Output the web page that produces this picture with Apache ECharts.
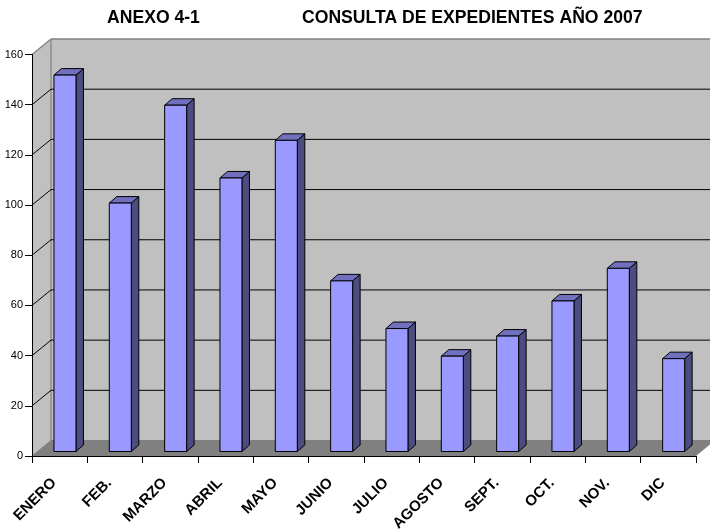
<!DOCTYPE html>
<html><head><meta charset="utf-8">
<style>html,body{margin:0;padding:0;background:#fff}#c{width:710px;height:532px}</style>
<script src="https://cdn.jsdelivr.net/npm/echarts@6/dist/echarts.min.js"></script>
</head><body><div id="c"></div>
<script>
const categories = ['ENERO','FEB.','MARZO','ABRIL','MAYO','JUNIO','JULIO','AGOSTO','SEPT.','OCT.','NOV.','DIC'];
const values = [150,99,138,109,124,68,49,38,46,60,73,37];
const yTicks = [20,40,60,80,100,120,140,160];
const yMin = 0, yMax = 160, yStep = 20;

// perspective offsets of the pseudo-3D drawing, in pixels
const wallDX = 19, wallDY = -15.5;
const barDX = 7.5, barDY = -6.5, barW = 22, barShift = 5.3, barLift = 4.5;
const FONT = '"Liberation Sans", Arial, sans-serif';

const chart = echarts.init(document.getElementById('c'), null, {renderer:'canvas'});
const poly = (pts, fill, stroke, lw, z2) => ({
  type:'polygon', shape:{points:pts}, z2:z2||0,
  style:{fill, stroke:stroke||'none', lineWidth:lw||0}
});
const seg = (x1,y1,x2,y2,stroke,lw,z2) => ({
  type:'line', shape:{x1,y1,x2,y2}, z2:z2||0, style:{stroke,lineWidth:lw||1}
});

function renderWalls(params, api){
  const cs = params.coordSys;
  const L = cs.x, R = cs.x+cs.width, B = cs.y+cs.height, T = cs.y;
  return {type:'group', children:[
    poly([[L,B],[L,T],[L+wallDX,T+wallDY],[L+wallDX,B+wallDY]],'#c0c0c0'),
    poly([[L+wallDX,B+wallDY],[L+wallDX,T+wallDY],[R+wallDX,T+wallDY],[R+wallDX,B+wallDY]],'#c0c0c0'),
    poly([[L,B],[L+wallDX,B+wallDY],[R+wallDX,B+wallDY],[R,B]],'#808080'),
    seg(L,T,L+wallDX,T+wallDY,'#808080',1.2),
    seg(L+wallDX,T+wallDY,R+wallDX,T+wallDY,'#808080',1.4),
    seg(L+wallDX,T+wallDY,L+wallDX,B+wallDY,'#808080',1.2),
    seg(L,B,L+wallDX,B+wallDY,'#808080',1),
    seg(L+wallDX,B+wallDY,R+wallDX,B+wallDY,'#808080',1)
  ]};
}
function renderGrid(params, api){
  const cs = params.coordSys;
  const L = cs.x, R = cs.x+cs.width;
  const y = api.coord([0, api.value(1)])[1];
  if (api.value(1) === yMax) return {type:'group', children:[]};
  return {type:'group', children:[
    seg(L,y,L+wallDX,y+wallDY,'#000',1),
    seg(L+wallDX,y+wallDY,R+wallDX,y+wallDY,'#000',1)
  ]};
}
function renderBar(params, api){
  const p = api.coord([api.value(0), api.value(1)]);
  const b = api.coord([api.value(0), 0]);
  const x0 = p[0]-barW/2+barShift, x1 = x0+barW;
  const yt = p[1]-barLift, yb = b[1]-barLift;
  const s = '#000', lw = 1;
  return {type:'group', children:[
    poly([[x1,yb],[x1,yt],[x1+barDX,yt+barDY],[x1+barDX,yb+barDY]],'#4c4c80',s,lw),
    poly([[x0,yt],[x0+barDX,yt+barDY],[x1+barDX,yt+barDY],[x1,yt]],'#7070bf',s,lw),
    poly([[x0,yb],[x0,yt],[x1,yt],[x1,yb]],'#9999ff',s,lw)
  ]};
}

chart.setOption({
  animation:false,
  backgroundColor:'#fff',
  title:[
    {text:'ANEXO 4-1', left:107, top:9.5, padding:0, textStyle:{fontFamily:FONT,fontSize:17.6,fontWeight:'bold',color:'#000'}},
    {text:'CONSULTA DE EXPEDIENTES AÑO 2007', left:302, top:9.5, padding:0, textStyle:{fontFamily:FONT,fontSize:17.6,fontWeight:'bold',color:'#000'}}
  ],
  grid:{left:32,right:14,top:54.5,bottom:76,containLabel:false,outerBoundsMode:'none'},
  xAxis:{
    type:'category', data:categories, z:10,
    axisLine:{show:true,lineStyle:{color:'#000',width:1}},
    axisTick:{show:true,alignWithLabel:false,length:7,lineStyle:{color:'#000',width:1}},
    axisLabel:{rotate:45,interval:0,margin:19,padding:[0,8,0,0],color:'#000',fontFamily:FONT,fontSize:15,fontWeight:'bold'},
    splitLine:{show:false}
  },
  yAxis:{
    type:'value', min:yMin, max:yMax, interval:yStep, z:10,
    axisLine:{show:true,lineStyle:{color:'#000',width:1}},
    axisTick:{show:true,length:7,lineStyle:{color:'#000',width:1}},
    axisLabel:{margin:9,color:'#000',fontFamily:FONT,fontSize:11},
    splitLine:{show:false}
  },
  series:[
    {type:'custom',name:'walls',coordinateSystem:'cartesian2d',clip:false,z:1,silent:true,renderItem:renderWalls,data:[[0,yMax]],encode:{x:0,y:1}},
    {type:'custom',name:'grid',coordinateSystem:'cartesian2d',clip:false,z:2,silent:true,renderItem:renderGrid,data:yTicks.map(v=>[0,v]),encode:{x:0,y:1}},
    {type:'custom',name:'Consultas',coordinateSystem:'cartesian2d',clip:false,z:3,renderItem:renderBar,data:values.map((v,i)=>[i,v]),encode:{x:0,y:1}}
  ]
});
</script></body></html>
